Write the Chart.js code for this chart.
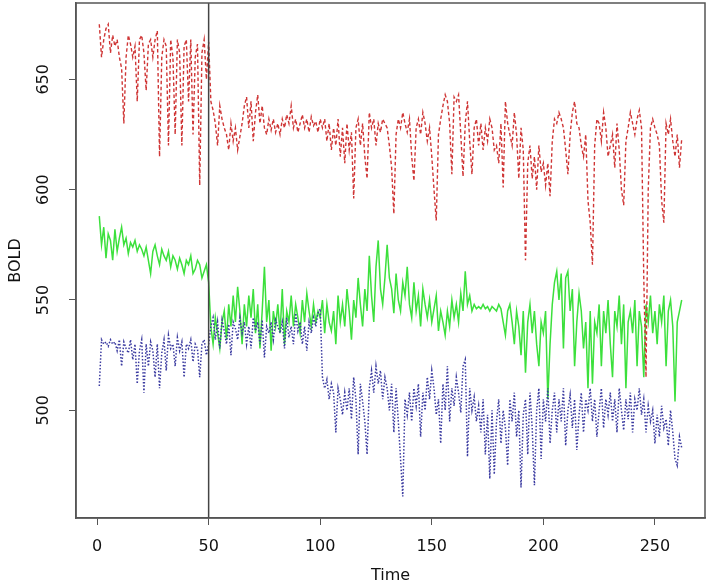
<!DOCTYPE html>
<html>
<head>
<meta charset="utf-8">
<script src="https://cdn.jsdelivr.net/npm/chart.js@4/dist/chart.umd.min.js"></script>
<style>
  html, body { margin: 0; padding: 0; background: #fff; }
  #wrap { width: 709px; height: 584px; }
</style>
</head>
<body>
<div id="wrap"><canvas id="grafico" width="709" height="584"></canvas></div>
<script>
// Datos (t = 1..262)
const rojo = [
  675, 660, 668, 673, 675, 662, 670, 665, 668, 660,
  655, 630, 660, 670, 666, 660, 665, 640, 668, 670,
  662, 645, 666, 668, 660, 668, 672, 615, 660, 668,
  665, 620, 668, 660, 625, 668, 662, 620, 665, 668,
  640, 668, 625, 660, 666, 602, 662, 668, 650, 667,
  640, 636, 630, 620, 638, 632, 628, 625, 618, 630,
  622, 628, 618, 624, 630, 638, 642, 628, 640, 622,
  635, 643, 630, 638, 628, 625, 632, 627, 632, 626,
  630, 625, 632, 628, 634, 630, 638, 628, 632, 626,
  630, 634, 628, 632, 626, 633, 629, 631, 626, 632,
  628, 632, 622, 630, 618, 628, 620, 632, 615, 628,
  612, 630, 618, 626, 596, 628, 632, 620, 630, 615,
  605, 635, 628, 632, 620, 630, 626, 632, 630, 628,
  620, 610, 589, 625, 632, 628, 635, 630, 626, 632,
  615, 604, 628, 632, 625, 635, 630, 622, 628, 615,
  600, 586, 625, 632, 638, 643, 640, 630, 607, 642,
  640, 643, 625, 606, 630, 640, 622, 607, 628, 632,
  620, 630, 618, 628, 622, 632, 628, 618, 620, 612,
  630, 601, 640, 630, 625, 620, 635, 625, 605, 628,
  618, 568, 612, 620, 605, 615, 600, 620, 608, 612,
  602, 612, 597, 622, 632, 630, 635, 632, 628, 618,
  607, 625, 635, 640, 630, 628, 620, 615, 625, 595,
  585, 566, 620, 632, 630, 622, 635, 628, 615, 620,
  625, 610, 630, 618, 600, 593, 622, 628, 635, 630,
  625, 632, 636, 628, 560, 515, 600, 628, 632, 628,
  625, 620, 595, 585, 630, 625, 632, 622, 615, 625,
  610, 623
];
const verde = [
  588, 575, 583, 569, 580, 577, 568, 582, 572, 578,
  583, 575, 578, 571, 576, 574, 577, 572, 575, 573,
  570, 574, 568, 562, 572, 575, 570, 566, 573, 570,
  568, 572, 565, 570, 568, 564, 569, 566, 562, 568,
  566, 570, 562, 564, 568, 566, 560, 563, 566, 558,
  538, 530, 542, 535, 528, 540, 545, 532, 548, 538,
  552, 540, 556, 545, 530, 548, 538, 552, 542, 555,
  535, 548, 528, 545, 565, 540, 550, 527, 545, 538,
  548, 535, 555, 530, 545, 540, 552, 538, 548, 542,
  535, 550, 540, 553, 545, 538, 548, 540, 545, 542,
  550, 535, 548, 540, 536, 545, 530, 552, 540, 548,
  538, 555, 545, 532, 550, 542, 560, 548, 538, 555,
  545, 570, 552, 540, 565, 577, 555, 548, 560, 575,
  560, 555, 544, 562, 550, 545, 558, 552, 565, 548,
  542, 558, 545, 552, 538, 555, 548, 542, 550, 540,
  546, 552, 536, 545, 540, 534, 545, 538, 550, 542,
  548, 540, 553, 545, 563, 548, 552, 545, 548, 546,
  547, 546, 548, 546, 547, 545, 547, 546, 545, 548,
  546, 540, 534, 545, 548, 540, 530, 545, 538, 525,
  545, 517, 540, 548, 535, 545, 530, 520, 540, 535,
  545, 505, 530, 548, 558, 563, 550, 562, 528, 560,
  563, 545, 555, 520, 540, 553, 545, 528, 540, 510,
  545, 512, 540, 535, 548, 520, 545, 535, 550, 530,
  515, 545, 538, 552, 530, 548, 510, 540, 545, 535,
  550, 520, 545, 538, 515, 548, 540, 552, 535, 545,
  530, 548, 540, 552, 520, 545, 550, 538, 504, 540,
  545, 550
];
const azul = [
  511, 532, 530, 531, 529, 532, 530, 531, 527, 532,
  520, 531, 528, 526, 532, 523, 530, 512, 527, 532,
  508, 530, 520, 531, 527, 515, 530, 510, 526, 532,
  518, 534, 528, 530, 520, 533, 527, 531, 515, 530,
  528, 532, 522, 530, 528, 515, 530, 532, 525, 530,
  538, 542, 532, 540, 528, 541, 536, 530, 539, 525,
  540, 537, 532, 542, 535, 540, 530, 538, 528, 542,
  536, 540, 530, 541, 524, 538, 535, 540, 532, 541,
  538, 535, 540, 528, 542, 533, 538, 530, 544, 536,
  540, 530, 538, 527, 540, 535, 542, 538, 544, 546,
  515, 510, 514, 505, 512, 508, 490, 510, 505, 498,
  508, 500, 510, 496, 515, 505, 480, 512, 504, 495,
  480, 510, 518, 508, 520, 512, 518, 505, 515, 510,
  500, 512, 490, 510, 495, 478, 461, 505, 498, 508,
  495, 510, 502, 512, 488, 508, 500, 515, 505, 518,
  510, 498, 505, 485, 512, 500, 520, 495, 510, 502,
  515, 508, 499, 520, 523, 479, 510, 500, 506, 495,
  502, 490, 505, 480, 498, 469, 500, 471, 495, 505,
  485, 500, 492, 475, 505, 495, 508, 488, 500, 465,
  498, 505, 480, 508, 492, 466, 500, 510, 478, 505,
  495, 510, 485, 500, 508, 490, 505, 495, 510, 484,
  500, 507, 492, 505, 482, 498, 508, 490, 505, 500,
  510, 495, 505, 488, 500, 510, 492, 505, 498, 508,
  495, 505, 490, 510, 500, 491, 505, 496, 508, 490,
  505, 500, 510, 498, 505, 490, 502, 495, 500, 485,
  498, 488, 502, 492, 496, 484, 500, 490, 478, 475,
  488, 483
];
const ticksX = [0, 50, 100, 150, 200, 250];
const ticksY = [500, 550, 600, 650];
const lineaVertical = 50;

const X_MIN = -9.44, X_MAX = 272.44;
const Y_MIN = 451.2, Y_MAX = 684.6;
const FUENTE = "'DejaVu Sans', sans-serif";

const puntos = (serie) => serie.map((v, i) => ({ x: i + 1, y: v }));

// Caja alrededor del área y etiquetas del eje Y giradas (estilo R)
const cajaYEtiquetas = {
  id: "cajaYEtiquetas",
  afterDraw(chart) {
    const { ctx, chartArea: a, scales } = chart;
    ctx.save();
    ctx.strokeStyle = "#555";
    ctx.lineWidth = 1.5;
    ctx.strokeRect(a.left, a.top, a.right - a.left, a.bottom - a.top);

    ctx.fillStyle = "#111";
    ctx.font = "16px " + FUENTE;
    ctx.textAlign = "center";
    ctx.textBaseline = "middle";
    ticksY.forEach((v) => {
      const py = scales.y.getPixelForValue(v);
      ctx.save();
      ctx.translate(44, py);
      ctx.rotate(-Math.PI / 2);
      ctx.fillText(String(v), 0, 0);
      ctx.restore();
    });
    ctx.restore();
  }
};

new Chart(document.getElementById("grafico"), {
  type: "line",
  data: {
    datasets: [
      {
        label: "rojo",
        data: puntos(rojo),
        borderColor: "#cf3535",
        borderWidth: 1.4,
        borderDash: [3.5, 2.5],
        pointRadius: 0,
        tension: 0,
        order: 1
      },
      {
        label: "azul",
        data: puntos(azul),
        borderColor: "#3a3aa0",
        borderWidth: 1.5,
        borderDash: [1.5, 1.8],
        pointRadius: 0,
        tension: 0,
        order: 2
      },
      {
        label: "verde",
        data: puntos(verde),
        borderColor: "#3ce03c",
        borderWidth: 1.5,
        pointRadius: 0,
        tension: 0,
        order: 3
      },
      {
        label: "t50",
        data: [{ x: lineaVertical, y: Y_MIN }, { x: lineaVertical, y: Y_MAX }],
        borderColor: "#444",
        borderWidth: 1.5,
        pointRadius: 0,
        order: 0
      }
    ]
  },
  options: {
    responsive: false,
    animation: false,
    devicePixelRatio: 1,
    layout: { padding: { top: 3, right: 4, left: 0, bottom: 0 } },
    plugins: {
      legend: { display: false },
      tooltip: { enabled: false }
    },
    scales: {
      x: {
        type: "linear",
        min: X_MIN,
        max: X_MAX,
        afterBuildTicks: (s) => { s.ticks = ticksX.map((v) => ({ value: v })); },
        afterFit: (s) => { s.height = 66; },
        grid: { display: true, drawOnChartArea: false, drawTicks: true, tickLength: 7, color: "#555" },
        border: { display: true, color: "#555", width: 1.5 },
        ticks: { color: "#111", font: { family: FUENTE, size: 16 }, padding: 12, maxRotation: 0 },
        title: { display: true, text: "Time", color: "#111", font: { family: FUENTE, size: 16, lineHeight: 1 }, padding: { top: 0, bottom: 0 } }
      },
      y: {
        type: "linear",
        min: Y_MIN,
        max: Y_MAX,
        afterBuildTicks: (s) => { s.ticks = ticksY.map((v) => ({ value: v })); },
        afterFit: (s) => { s.width = 76; },
        grid: { display: true, drawOnChartArea: false, drawTicks: true, tickLength: 7, color: "#555" },
        border: { display: true, color: "#555", width: 1.5 },
        ticks: { display: false },
        title: { display: true, text: "BOLD", color: "#111", font: { family: FUENTE, size: 16 }, padding: { top: 6, bottom: 0 } }
      }
    }
  },
  plugins: [cajaYEtiquetas]
});
</script>
</body>
</html>
